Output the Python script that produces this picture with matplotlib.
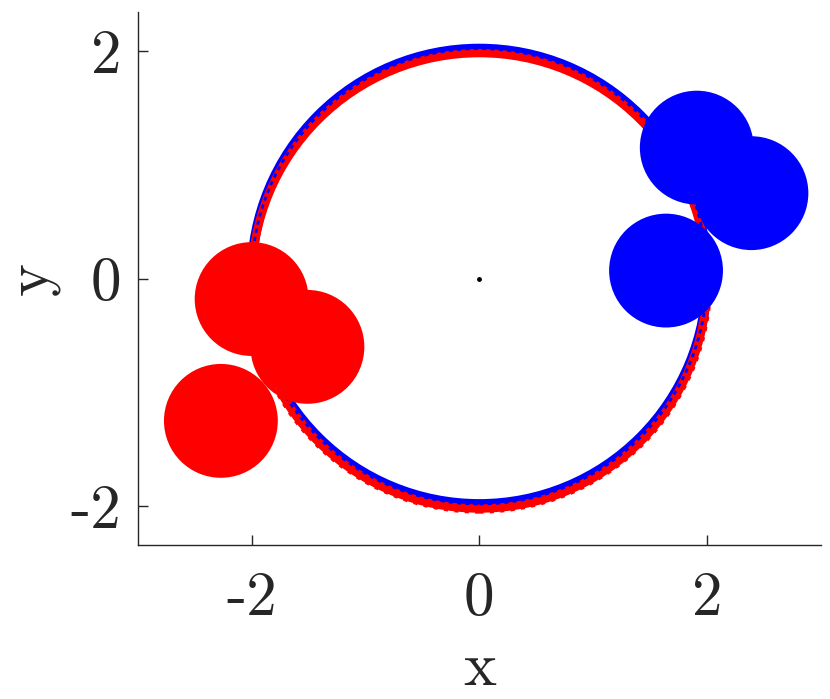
import matplotlib
matplotlib.use("Agg")
import matplotlib.pyplot as plt
from matplotlib.patches import Circle

# Schrift wie LaTeX / Computer Modern
plt.rcParams['font.family'] = 'serif'
plt.rcParams['font.serif'] = ['cmr10']
plt.rcParams['mathtext.fontset'] = 'cm'
plt.rcParams['axes.unicode_minus'] = False

# Bahnradius der Teilchen
ring_radius = 2.0
ring_shift = [0.02, -0.02]   # blau, rot (leicht versetzt)

# Scheiben (Mittelpunkte)
red_x = [-2.00, -1.51, -2.27]
red_y = [-0.18, -0.60, -1.25]
blue_x = [1.91, 2.39, 1.64]
blue_y = [1.15, 0.75, 0.07]
disc_radius = 0.5

ticks = [-2, 0, 2]
tick_labels = ['-2', '0', '2']

fig = plt.figure(figsize=(8.3, 6.99), dpi=100)
ax = fig.add_axes([0.166, 0.22, 0.823, 0.763])

# Bahnen als dicke Ringe
ax.add_patch(Circle((0, ring_shift[0]), ring_radius, fill=False,
                    edgecolor='blue', lw=7, zorder=2))
ax.add_patch(Circle((0, ring_shift[1]), ring_radius, fill=False,
                    edgecolor='red', lw=6, zorder=3))
ax.add_patch(Circle((0, ring_shift[0]), ring_radius, fill=False,
                    edgecolor='blue', lw=2, ls=(0, (1.5, 1.5)), zorder=4))
ax.add_patch(Circle((0, ring_shift[1]), ring_radius + 0.03, fill=False,
                    edgecolor='red', lw=2.5, ls=(0, (1.2, 1.8)), zorder=1))

for x, y in zip(red_x, red_y):
    ax.add_patch(Circle((x, y), disc_radius, color='red', lw=0, zorder=5))
for x, y in zip(blue_x, blue_y):
    ax.add_patch(Circle((x, y), disc_radius, color='blue', lw=0, zorder=5))

ax.plot([0], [0], 'k.', ms=5, zorder=6)

ax.set_xlim(-3, 3)
ax.set_ylim(-2.34, 2.34)
ax.set_aspect('equal')
ax.set_xticks(ticks)
ax.set_xticklabels(tick_labels)
ax.set_yticks(ticks)
ax.set_yticklabels(tick_labels)
ax.tick_params(direction='in', length=7, width=1, colors='#262626',
               labelsize=44)
ax.tick_params(axis='x', pad=19)
ax.tick_params(axis='y', pad=12)
for s in ['top', 'right']:
    ax.spines[s].set_visible(False)
for s in ['left', 'bottom']:
    ax.spines[s].set_color('#262626')
    ax.spines[s].set_linewidth(1)

ax.set_xlabel('x', fontsize=45, color='#262626', labelpad=11)
ax.set_ylabel('y', fontsize=45, color='#262626', labelpad=8)

fig.savefig('out.png', dpi=100)
